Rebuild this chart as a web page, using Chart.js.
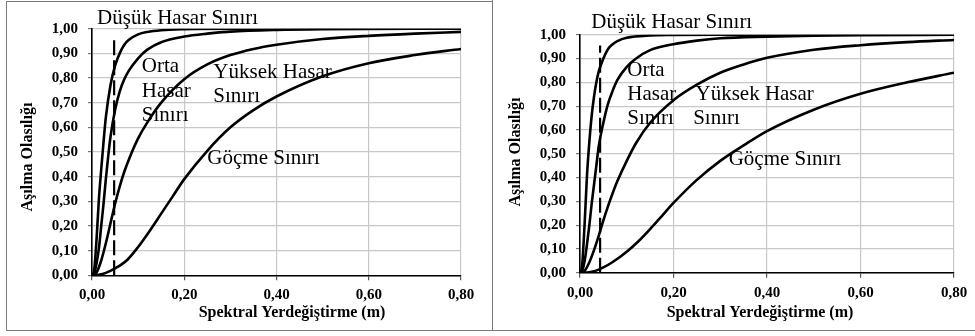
<!DOCTYPE html>
<html>
<head>
<meta charset="utf-8">
<script src="https://cdn.jsdelivr.net/npm/chart.js@4/dist/chart.umd.min.js"></script>
<style>
  html, body { margin: 0; padding: 0; background: #fff; width: 975px; height: 336px; overflow: hidden; }
  #wrap { position: relative; width: 975px; height: 336px; }
  canvas { position: absolute; top: 0; }
  .ln { position: absolute; background: #7a7a7a; }
</style>
</head>
<body>
<div id="wrap">
  <canvas id="cL" width="492" height="336" style="left:0px"></canvas>
  <canvas id="cR" width="483" height="336" style="left:492px"></canvas>
  <div class="ln" style="left:6px; top:1px; width:487px; height:1px;"></div>
  <div class="ln" style="left:6px; top:1px; width:1px; height:330px;"></div>
  <div class="ln" style="left:6px; top:330px; width:969px; height:1px;"></div>
  <div class="ln" style="left:492px; top:0px; width:1px; height:331px;"></div>
</div>
<script>
// ---------- DATA ----------
const xTickLabels = ['0,00', '0,20', '0,40', '0,60', '0,80'];
const yTickLabels = ['0,00','0,10','0,20','0,30','0,40','0,50','0,60','0,70','0,80','0,90','1,00'];

// Left panel
const L_dusuk_x  = [0, 0.005, 0.01, 0.015, 0.02, 0.025, 0.03, 0.04, 0.05, 0.06, 0.07, 0.08, 0.1, 0.12, 0.15, 0.2, 0.3, 0.8];
const L_dusuk_y  = [0, 0.026, 0.15, 0.31, 0.43, 0.54, 0.64, 0.77, 0.85, 0.90, 0.935, 0.955, 0.977, 0.987, 0.994, 0.998, 1.0, 1.0];
const L_orta_x   = [0, 0.005, 0.01, 0.015, 0.02, 0.025, 0.03, 0.035, 0.04, 0.05, 0.06, 0.07, 0.08, 0.1, 0.12, 0.15, 0.2, 0.25, 0.3, 0.4, 0.5, 0.8];
const L_orta_y   = [0, 0.01, 0.05, 0.11, 0.20, 0.29, 0.39, 0.48, 0.56, 0.67, 0.745, 0.795, 0.83, 0.88, 0.915, 0.945, 0.968, 0.98, 0.988, 0.995, 0.998, 1.0];
const L_yuksek_x = [0, 0.01, 0.02, 0.03, 0.04, 0.05, 0.06, 0.07, 0.08, 0.1, 0.12, 0.15, 0.2, 0.25, 0.3, 0.35, 0.4, 0.5, 0.6, 0.7, 0.8];
const L_yuksek_y = [0, 0.012, 0.06, 0.13, 0.21, 0.29, 0.36, 0.42, 0.47, 0.555, 0.62, 0.70, 0.795, 0.855, 0.893, 0.918, 0.935, 0.958, 0.971, 0.98, 0.987];
const L_gocme_x  = [0, 0.02, 0.03, 0.05, 0.075, 0.1, 0.125, 0.15, 0.175, 0.2, 0.25, 0.3, 0.35, 0.4, 0.5, 0.6, 0.7, 0.8];
const L_gocme_y  = [0, 0.004, 0.01, 0.028, 0.06, 0.115, 0.18, 0.25, 0.32, 0.39, 0.505, 0.60, 0.67, 0.725, 0.807, 0.86, 0.893, 0.918];
const L_dash_x   = [0.048, 0.048];
const L_dash_y   = [0, 0.96];

// Right panel
const R_dusuk_x  = [0, 0.003, 0.005, 0.01, 0.015, 0.02, 0.025, 0.03, 0.035, 0.04, 0.05, 0.06, 0.07, 0.08, 0.1, 0.15, 0.2, 0.3, 0.8];
const R_dusuk_y  = [0, 0.01, 0.04, 0.21, 0.41, 0.55, 0.66, 0.74, 0.80, 0.845, 0.90, 0.94, 0.96, 0.973, 0.987, 0.997, 0.999, 1.0, 1.0];
const R_orta_x   = [0, 0.005, 0.01, 0.015, 0.02, 0.025, 0.03, 0.035, 0.04, 0.05, 0.06, 0.07, 0.08, 0.1, 0.12, 0.15, 0.2, 0.25, 0.3, 0.4, 0.5, 0.6, 0.8];
const R_orta_y   = [0, 0.01, 0.05, 0.12, 0.20, 0.29, 0.37, 0.45, 0.53, 0.63, 0.71, 0.765, 0.81, 0.865, 0.90, 0.935, 0.96, 0.975, 0.985, 0.992, 0.996, 0.998, 1.0];
const R_yuksek_x = [0, 0.01, 0.02, 0.03, 0.04, 0.05, 0.06, 0.07, 0.08, 0.1, 0.12, 0.15, 0.2, 0.25, 0.3, 0.35, 0.4, 0.5, 0.6, 0.7, 0.8];
const R_yuksek_y = [0, 0.008, 0.044, 0.095, 0.155, 0.22, 0.28, 0.335, 0.385, 0.47, 0.545, 0.63, 0.725, 0.79, 0.84, 0.875, 0.903, 0.937, 0.956, 0.969, 0.978];
const R_gocme_x  = [0, 0.02, 0.03, 0.04, 0.05, 0.07, 0.1, 0.125, 0.15, 0.175, 0.2, 0.25, 0.3, 0.35, 0.4, 0.5, 0.6, 0.7, 0.8];
const R_gocme_y  = [0, 0.002, 0.006, 0.013, 0.022, 0.045, 0.088, 0.132, 0.183, 0.238, 0.293, 0.39, 0.47, 0.535, 0.595, 0.685, 0.752, 0.80, 0.84];
const R_dash_x   = [0.043, 0.043];
const R_dash_y   = [0, 0.955];

const seriesNames = ['Düşük Hasar Sınırı', 'Orta Hasar Sınırı', 'Yüksek Hasar Sınırı', 'Göçme Sınırı'];
const xTitle = 'Spektral Yerdeğiştirme (m)';
const yTitle = 'Aşılma Olasılığı';

// ---------- annotation text (anchors in data units, left/baseline) ----------
const annotL = [
  { t: 'Düşük Hasar Sınırı', x: 0.011, y: 1.018 },
  { t: 'Orta',   x: 0.108, y: 0.823 },
  { t: 'Hasar',  x: 0.108, y: 0.724 },
  { t: 'Sınırı', x: 0.108, y: 0.627 },
  { t: 'Yüksek Hasar', x: 0.263, y: 0.799 },
  { t: 'Sınırı', x: 0.263, y: 0.704 },
  { t: 'Göçme Sınırı', x: 0.25, y: 0.451 }
];
const annotR = [
  { t: 'Düşük Hasar Sınırı', x: 0.024, y: 1.027 },
  { t: 'Orta',   x: 0.101, y: 0.826 },
  { t: 'Hasar',  x: 0.101, y: 0.726 },
  { t: 'Sınırı', x: 0.101, y: 0.625 },
  { t: 'Yüksek Hasar', x: 0.247, y: 0.726 },
  { t: 'Sınırı', x: 0.242, y: 0.625 },
  { t: 'Göçme Sınırı', x: 0.318, y: 0.4525 }
];

const SERIF = "'Liberation Serif', 'Times New Roman', serif";
Chart.defaults.font.family = SERIF;
Chart.defaults.color = '#000';

function pts(xs, ys) { return xs.map((x, i) => ({ x: x, y: ys[i] })); }

function curve(label, xs, ys) {
  return {
    label: label, data: pts(xs, ys),
    borderColor: '#000', borderWidth: 2.6, pointRadius: 0,
    fill: false, cubicInterpolationMode: 'monotone'
  };
}
function dash(xs, ys) {
  return {
    label: 'dash', data: pts(xs, ys),
    borderColor: '#000', borderWidth: 2.2, pointRadius: 0,
    borderDash: [15, 5], fill: false
  };
}

function makeChart(id, sets, annots, geo) {
  const textPlugin = {
    id: 'texts',
    afterDatasetsDraw(chart) {
      const ctx = chart.ctx;
      const xs = chart.scales.x, ys = chart.scales.y;
      ctx.save();
      ctx.fillStyle = '#000';
      ctx.font = '21px ' + SERIF;
      ctx.textAlign = 'left';
      ctx.textBaseline = 'alphabetic';
      annots.forEach(a => ctx.fillText(a.t, xs.getPixelForValue(a.x), ys.getPixelForValue(a.y)));
      ctx.font = 'bold 16px ' + SERIF;
      ctx.textAlign = 'center';
      ctx.textBaseline = 'middle';
      ctx.fillText(xTitle, geo.xtx, geo.xty);
      ctx.translate(geo.ytx, geo.yty);
      ctx.rotate(-Math.PI / 2);
      ctx.fillText(yTitle, 0, 0);
      ctx.restore();
    }
  };
  return new Chart(document.getElementById(id), {
    type: 'line',
    data: { datasets: sets },
    options: {
      responsive: false, animation: false, devicePixelRatio: 1,
      layout: { padding: { left: 0, top: geo.top, right: geo.right, bottom: 0 } },
      plugins: { legend: { display: false }, tooltip: { enabled: false } },
      scales: {
        x: {
          type: 'linear', min: 0, max: 0.8,
          ticks: {
            stepSize: 0.2, padding: 6, maxRotation: 0,
            font: { size: 15, weight: 'bold', family: SERIF },
            callback: (v) => xTickLabels[Math.round(v / 0.2)]
          },
          grid: { color: '#c8c8c8', lineWidth: 1.2, tickLength: 5, tickColor: '#555' },
          border: { color: '#000', width: 1.6 },
          afterFit: (s) => { s.height = geo.xh; }
        },
        y: {
          type: 'linear', min: 0, max: 1,
          ticks: {
            stepSize: 0.1, padding: 10,
            font: { size: 15, weight: 'bold', family: SERIF },
            callback: (v) => yTickLabels[Math.round(v / 0.1)]
          },
          grid: { color: '#c8c8c8', lineWidth: 1.2, tickLength: 4, tickColor: '#777' },
          border: { color: '#000', width: 1.6 },
          afterFit: (s) => { s.width = geo.yw; }
        }
      }
    },
    plugins: [textPlugin]
  });
}

makeChart('cL', [
  curve(seriesNames[0], L_dusuk_x, L_dusuk_y),
  curve(seriesNames[1], L_orta_x, L_orta_y),
  curve(seriesNames[2], L_yuksek_x, L_yuksek_y),
  curve(seriesNames[3], L_gocme_x, L_gocme_y),
  dash(L_dash_x, L_dash_y)
], annotL, { top: 28.7, right: 31, xh: 60.7, yw: 92, xtx: 292, xty: 313, ytx: 28, yty: 157 });

makeChart('cR', [
  curve(seriesNames[0], R_dusuk_x, R_dusuk_y),
  curve(seriesNames[1], R_orta_x, R_orta_y),
  curve(seriesNames[2], R_yuksek_x, R_yuksek_y),
  curve(seriesNames[3], R_gocme_x, R_gocme_y),
  dash(R_dash_x, R_dash_y)
], annotR, { top: 34.7, right: 21, xh: 63.3, yw: 88, xtx: 268, xty: 313, ytx: 24, yty: 152 });
</script>
</body>
</html>
